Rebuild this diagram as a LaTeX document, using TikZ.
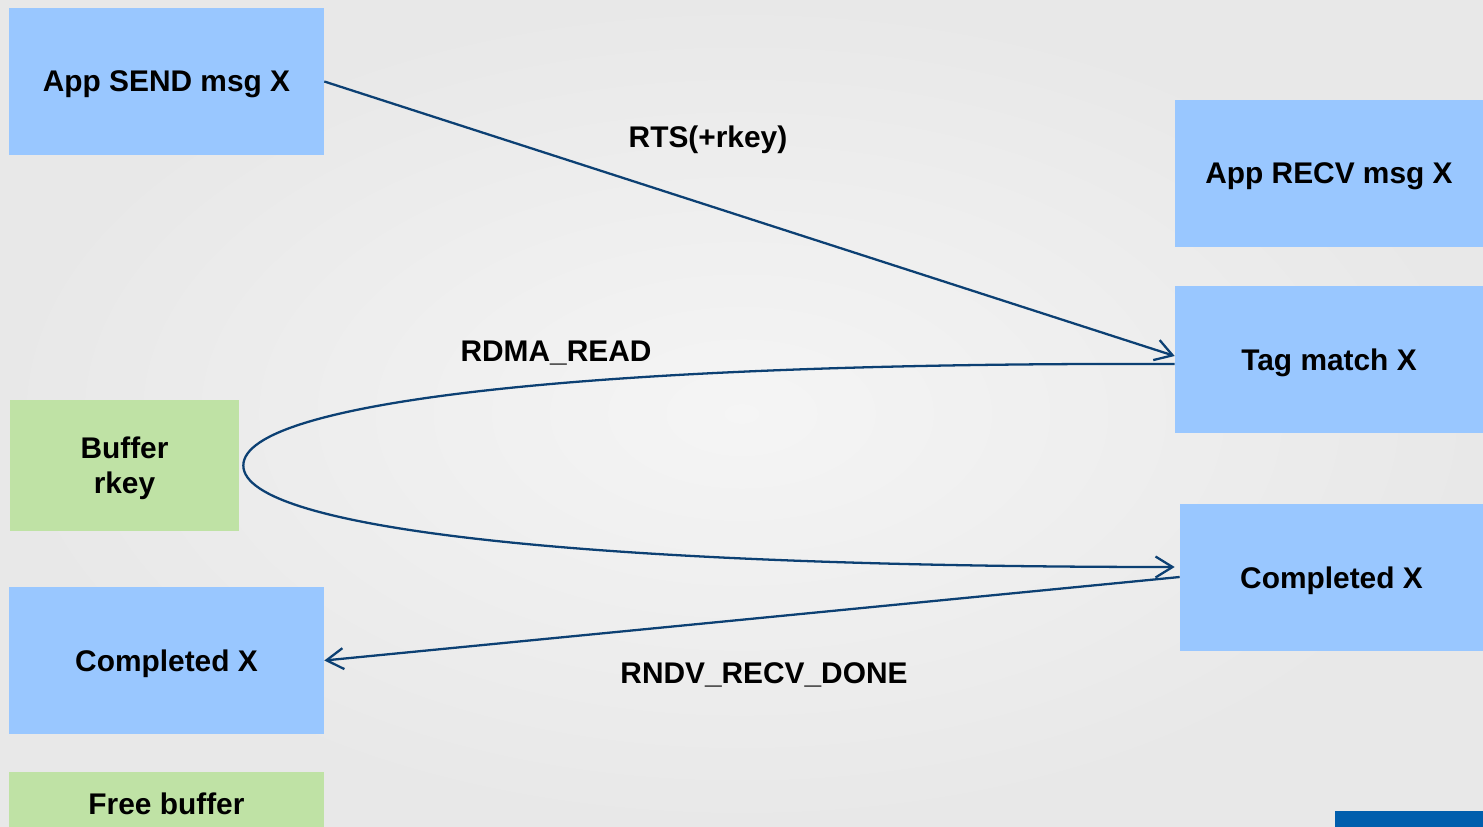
\documentclass[tikz,border=0pt]{standalone}
\usepackage{fontspec}
\setmainfont{Liberation Sans}
\usepackage{tikz}
\usetikzlibrary{arrows.meta, positioning}
\definecolor{msgblue}{RGB}{153, 199, 255}
\definecolor{bufgreen}{RGB}{191, 226, 165}
\definecolor{linkblue}{RGB}{12, 64, 115}
\definecolor{footblue}{RGB}{0, 94, 173}

\begin{document}
\begin{tikzpicture}[
    x=0.02cm, y=-0.02cm,
    box/.style={rectangle, fill=msgblue, inner sep=0pt, minimum width=6.3cm, minimum height=2.94cm, align=center, text depth=0pt, font=\fontsize{17}{20}\selectfont\bfseries},
    bufbox/.style={box, fill=bufgreen},
    lbl/.style={font=\fontsize{17}{20}\selectfont\bfseries},
    arrow/.style={-{Straight Barb[length=3.4mm, width=4.2mm]}, line width=1.3pt, draw=linkblue}
]
    % Background
    \shade[inner color=white!96!black, outer color=white!91!black] (0,0) rectangle (1483,827);
    \useasboundingbox (0,0) rectangle (1483,827);

    % Sender side
    \node[box] (send) at (166.5,81.5) {App SEND msg X};
    \node[bufbox, minimum width=4.58cm, minimum height=2.62cm] (buf) at (124.5,465.5) {Buffer\\rkey};
    \node[box] (compL) at (166.5,660.5) {Completed X};
    \node[bufbox, minimum height=1.3cm] (free) at (166.5,804) {Free buffer};

    % Receiver side
    \node[box, minimum width=6.16cm] (recv) at (1329,173.5) {App RECV msg X};
    \node[box, minimum width=6.16cm] (tag) at (1329,359.5) {Tag match X};
    \node[box, minimum width=6.06cm] (compR) at (1331.5,577.5) {Completed X};

    % Footer bar
    \fill[footblue] (1335,811) rectangle (1483,827);

    % Messages
    \draw[arrow] (send.east) -- ([yshift=0.07cm]tag.west);
    \coordinate (turn) at ([xshift=0.08cm]buf.east);
    \draw[arrow] ([yshift=-0.09cm]tag.west) .. controls +(-575,-2) and +(0,-65) .. (turn)
        .. controls +(0,65) and +(-575,0) .. ([xshift=-0.1cm, yshift=0.21cm]compR.west);
    \draw[arrow] ([yshift=0.01cm]compR.west) -- (compL.east);

    % Labels
    \node[lbl] (rts) at (708,140) {RTS(+rkey)};
    \node[lbl] (rdma) at (556,353) {RDMA\_READ};
    \node[lbl] (done) at (764,675) {RNDV\_RECV\_DONE};
\end{tikzpicture}
\end{document}
